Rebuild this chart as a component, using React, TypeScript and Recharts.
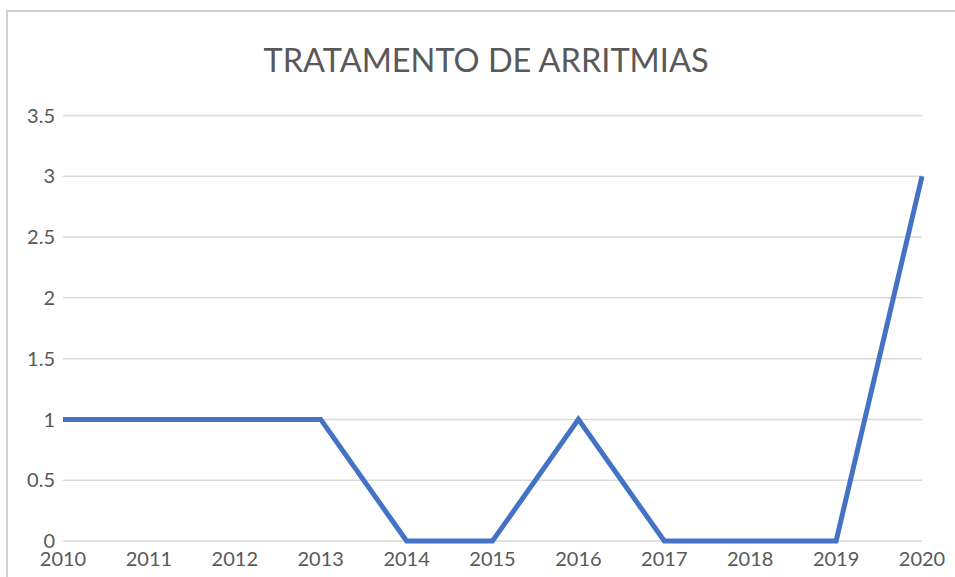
import { LineChart, Line, XAxis, YAxis, CartesianGrid } from 'recharts';

const years = ['2010', '2011', '2012', '2013', '2014', '2015', '2016', '2017', '2018', '2019', '2020'];
const treatments = [1, 1, 1, 1, 0, 0, 1, 0, 0, 0, 3];
const yTicks = [0, 0.5, 1, 1.5, 2, 2.5, 3, 3.5];

const chartData = years.map((year, i) => ({ year, value: treatments[i] }));

const FONT = 'Lato, "Open Sans", sans-serif';
const TEXT = '#595959';
const GRID = '#d9d9d9';

export default function App() {
  return (
    <div style={{ width: 955, height: 577, overflow: 'hidden', background: '#fff' }}>
      <style>{'body { margin: 0; }'}</style>
      <LineChart
        width={955}
        height={577}
        data={chartData}
        margin={{ top: 115.5, right: 33, bottom: 0, left: 8 }}
        style={{ fontFamily: FONT }}
      >
        {/* chart frame, runs off the right and bottom edges like the source */}
        <rect x={7} y={11} width={980} height={600} fill="none" stroke="#d0d0d0" strokeWidth={2} />
        <text x={486} y={72} textAnchor="middle" fontSize={32.5} fill={TEXT} fontFamily={FONT}>
          TRATAMENTO DE ARRITMIAS
        </text>
        <CartesianGrid vertical={false} stroke={GRID} strokeWidth={1.5} />
        <XAxis
          dataKey="year"
          axisLine={false}
          tickLine={false}
          tickSize={0}
          tickMargin={11}
          interval={0}
          height={36}
          tick={{ fill: TEXT, fontSize: 20, fontFamily: FONT }}
        />
        <YAxis
          domain={[0, 3.5]}
          ticks={yTicks}
          axisLine={false}
          tickLine={false}
          tickSize={0}
          tickMargin={8}
          width={55}
          tick={{ fill: TEXT, fontSize: 20, fontFamily: FONT }}
        />
        <Line
          type="linear"
          dataKey="value"
          stroke="#4472C4"
          strokeWidth={5}
          dot={false}
          isAnimationActive={false}
        />
      </LineChart>
    </div>
  );
}
